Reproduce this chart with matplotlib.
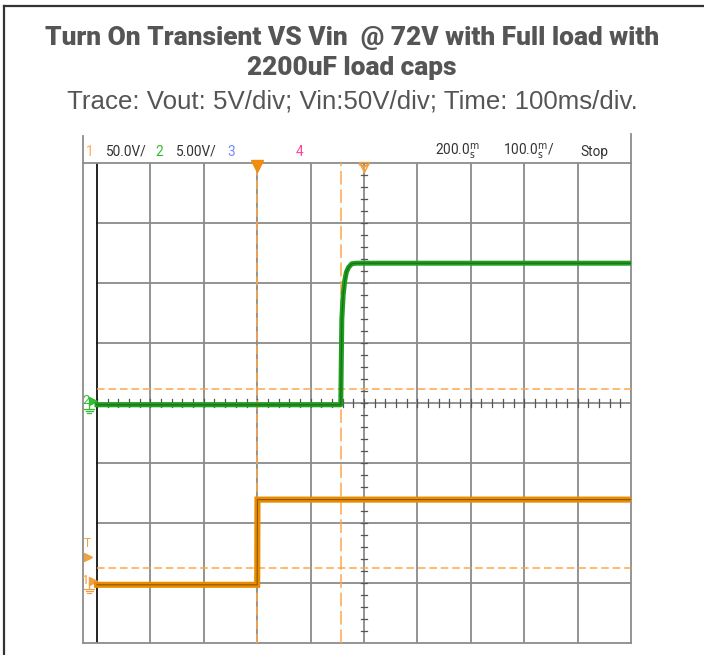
import matplotlib
matplotlib.use("Agg")
import matplotlib.pyplot as plt
import numpy as np

# ---------------- data ----------------
# time relative to trigger (ms), 100 ms/div, trigger at 3rd division
vin_t = [-300, 0, 0.5, 700]
vin_v = [-1.5, -1.5, 69.5, 69.5]          # Vin (V), 50 V/div
vout_t = [-300, 156.5, 157.5, 158.5, 161, 164, 167, 171, 177, 185, 700]
vout_v = [-0.15, -0.15, 3.5, 7.0, 9.0, 10.2, 10.9, 11.3, 11.6, 11.65, 11.65]  # Vout (V), 5 V/div

ch1_scale, ch1_offset = 50.0, -3.0   # V/div, ground position (div)
ch2_scale, ch2_offset = 5.0, 0.0
cursor_x = [0, 157]          # ms
cursor_y = [0.23, -2.75]     # div
trig_level_div = -2.57

title_lines = ["Turn On Transient VS Vin  @ 72V with Full load with", "2200uF load caps"]
subtitle = "Trace: Vout: 5V/div; Vin:50V/div; Time: 100ms/div."

W, H = 704, 655
fig = plt.figure(figsize=(W / 100, H / 100), dpi=100)

def fx(px):
    return px / W

def fy(py):
    return 1 - py / H

# outer border
fig.add_artist(plt.Line2D([fx(4), fx(4)], [fy(6), 0], color="#333333", lw=1.6))
fig.add_artist(plt.Line2D([fx(4), 1], [fy(6), fy(6)], color="#333333", lw=1.6))

for line, ypx in zip(title_lines, [38, 68]):
    fig.text(0.5, fy(ypx), line, ha="center", va="center", fontsize=18.9,
             fontweight="heavy", color="#555555", family=["Roboto", "DejaVu Sans"])
fig.text(0.5, fy(102), subtitle, ha="center", va="center", fontsize=18.6,
         color="#555555", family=["Liberation Sans", "DejaVu Sans"])

# scope axes
x0, x1, y0, y1 = 83, 631, 163, 643
ax = fig.add_axes([fx(x0), fy(y1), (x1 - x0) / W, (y1 - y0) / H])
divpx = (631 - 97) / 10.0
xmin = -300 - (97 - 83) / divpx * 100
ax.set_xlim(xmin, 700)
ax.set_ylim(-4, 4)
ax.set_xticks([])
ax.set_yticks([])
for s in ax.spines.values():
    s.set_color("#8c8c8c")
    s.set_linewidth(1.3)

ms_per_px = 100 / divpx
div_per_px = 1 / 60.0

# frame extension upward (header area)
fig.add_artist(plt.Line2D([fx(83), fx(83)], [fy(163), fy(136)], color="#8c8c8c", lw=1.3))
fig.add_artist(plt.Line2D([fx(631), fx(631)], [fy(163), fy(134)], color="#8c8c8c", lw=1.3))

# graticule
grid_c = "#8a8a8a"
for k in range(1, 10):
    ax.plot([-300 + 100 * k] * 2, [-4, 4], color=grid_c, lw=1.3, zorder=1)
for k in range(-3, 4):
    ax.plot([-300, 700], [k, k], color=grid_c, lw=1.3, zorder=1)
ax.plot([-300, -300], [-4, 4], color="#111111", lw=1.3, zorder=2)

# center ticks
tick_c = "#555555"
for yv in np.arange(-4, 4.01, 0.2):
    ax.plot([200 - 6, 200 + 6], [yv, yv], color=tick_c, lw=0.9, zorder=1.5)
for xv in np.arange(-300, 700.1, 20):
    ax.plot([xv, xv], [-0.06, 0.06], color=tick_c, lw=0.9, zorder=1.5)

# cursors
cur_c = "#ffa54a"
ax.plot([cursor_x[0]] * 2, [-4, 4], color=cur_c, lw=1.1, dashes=(6, 3), zorder=3)
ax.plot([cursor_x[1]] * 2, [-4, 4], color=cur_c, lw=1.1, dashes=(9, 3), zorder=3)
for cy in cursor_y:
    ax.plot([-300, 700], [cy, cy], color=cur_c, lw=1.1, dashes=(5, 2.5), zorder=3)

# traces
vin_div = np.array(vin_v) / ch1_scale + ch1_offset
vout_div = np.array(vout_v) / ch2_scale + ch2_offset
ax.plot(vin_t, vin_div, color="#e88c00", lw=4.4, zorder=4, solid_joinstyle="miter")
ax.plot(vin_t, vin_div, color="#6b3d00", lw=0.8, alpha=0.7, zorder=5)
ax.plot(vout_t, vout_div, color="#1f9f1f", lw=3.6, zorder=4)
ax.plot(vout_t, vout_div, color="#145214", lw=0.9, alpha=0.6, zorder=5)

# top markers
ax.plot([0], [3.95], marker="v", color="#f08c10", ms=8, clip_on=False, zorder=6)
ax.plot([200], [3.93], marker="1", color="#f0a040", ms=9, mew=1.5, clip_on=False, zorder=6)
ax.plot([200], [3.93], marker="v", mfc="none", mec="#f0a040", ms=7, clip_on=False, zorder=6)

# left channel markers (number, arrow, ground symbol)
def ground(xc_px_off, ycen, color):
    xc = -300 + xc_px_off * ms_per_px
    top = ycen - 6 * div_per_px
    ax.plot([xc, xc], [ycen, top], color=color, lw=0.9, clip_on=False)
    for i, half in enumerate([5, 3.5, 2]):
        yy = top - i * 2.2 * div_per_px
        ax.plot([xc - half * ms_per_px, xc + half * ms_per_px], [yy, yy],
                color=color, lw=0.9, clip_on=False)

for num, off, col in [("2", ch2_offset, "#33bb33"), ("1", ch1_offset, "#f0a040")]:
    ax.text(-300 - 11 * ms_per_px, off + 3 * div_per_px, num, color=col, fontsize=9.5,
            ha="center", va="center", family=["Roboto", "DejaVu Sans"])
    ax.plot([-300 - 4 * ms_per_px], [off + 2 * div_per_px], marker=">", color=col, ms=6,
            clip_on=False)
    ground(-8, off, col)

ax.text(-300 - 10 * ms_per_px, trig_level_div + 14 * div_per_px, "T", color="#f0a040",
        fontsize=8.5, ha="center", va="center", family=["Roboto", "DejaVu Sans"])
ax.plot([-300 - 9 * ms_per_px], [trig_level_div], marker=">", color="#f0a040", ms=6,
        clip_on=False)

# header line
hf = ["Roboto", "DejaVu Sans"]
hy = fy(152)
fs = 9.8
fig.text(fx(90), hy, "1", color="#ffaa55", fontsize=fs, ha="center", va="center", family=hf)
fig.text(fx(106), hy, "50.0V/", color="#333333", fontsize=fs, ha="left", va="center", family=hf)
fig.text(fx(159), hy, "2", color="#33bb33", fontsize=fs, ha="center", va="center", family=hf)
fig.text(fx(176), hy, "5.00V/", color="#333333", fontsize=fs, ha="left", va="center", family=hf)
fig.text(fx(231), hy, "3", color="#7788ff", fontsize=fs, ha="center", va="center", family=hf)
fig.text(fx(300), hy, "4", color="#ff4499", fontsize=fs, ha="center", va="center", family=hf)
fig.text(fx(435), hy, r"200.0$^{\rm m}_{\rm s}$", color="#333333", fontsize=fs, ha="left",
         va="center", family=hf)
fig.text(fx(503), hy, r"100.0$^{\rm m}_{\rm s}$/", color="#333333", fontsize=fs, ha="left",
         va="center", family=hf)
fig.text(fx(580), hy, "Stop", color="#333333", fontsize=fs, ha="left", va="center", family=hf)

fig.savefig("out.png", dpi=100)
